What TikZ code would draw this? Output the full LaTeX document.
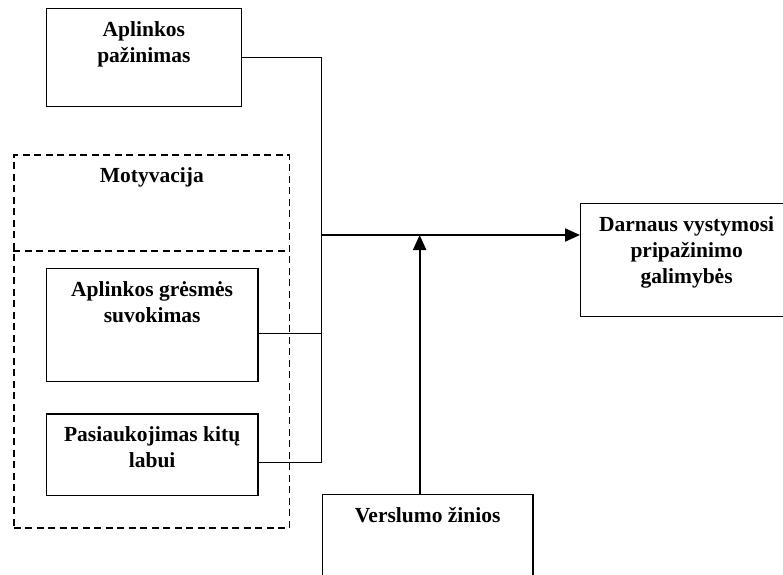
\documentclass[tikz,border=0pt]{standalone}
\usepackage{fontspec}
\setmainfont{Liberation Serif}
\usetikzlibrary{arrows.meta,positioning}
\tikzset{dezute/.style={draw,line width=1.3pt,inner sep=0pt,anchor=north west},
  antraste/.style={anchor=north,inner sep=0pt,yshift=-13.5pt,align=center,font=\fontsize{21.5}{26}\selectfont\bfseries},
  punkt/.style={draw,line width=1.3pt,dash pattern=on 7pt off 4.5pt},
  rysys/.style={line width=1.4pt},
  rodykle/.style={line width=2pt,-{Triangle[length=15pt,width=13pt]}}}

\begin{document}
\begin{tikzpicture}[x=1pt,y=-1pt]
    \path[use as bounding box,clip] (0,0) rectangle (783,574);

    % motyvacijos grupe
    \node[punkt,inner sep=0pt,anchor=north west,minimum width=275.7pt,minimum height=373pt,
      label={[antraste]north:Motyvacija}] (motyv) at (13.3,154.3) {};
    \draw[punkt] (13.3,251) -- (289,251);

    \node[dezute,minimum width=195pt,minimum height=98pt,
      label={[antraste]north:Aplinkos\\pažinimas}] (ap) at (45.7,7.7) {};
    \node[dezute,minimum width=211.6pt,minimum height=113.3pt,
      label={[antraste]north:Aplinkos grėsmės\\suvokimas}] (gr) at (45.7,267.7) {};
    \node[dezute,minimum width=211.6pt,minimum height=81.7pt,
      label={[antraste]north:Pasiaukojimas kitų\\labui}] (psk) at (45.7,413.3) {};
    \node[dezute,minimum width=212pt,minimum height=113.3pt,
      label={[antraste]north:Darnaus vystymosi\\pripažinimo\\galimybės}] (dv) at (580,202.7) {};
    \node[dezute,minimum width=210.6pt,minimum height=100pt,
      label={[antraste]north:Verslumo žinios}] (vz) at (321.7,494) {};

    \coordinate (mazgas) at (321.7,235);

    \draw[rysys] (ap.east) -| (mazgas);
    \draw[rysys] ([yshift=-8.4pt]gr.east) -| (mazgas);
    \draw[rysys] ([yshift=-7.7pt]psk.east) -| (mazgas);
    \draw[rodykle] (mazgas) -- (dv.west |- mazgas);
    \draw[rodykle] ([xshift=-8pt]vz.north) -- ([xshift=-8pt]vz.north |- mazgas);
\end{tikzpicture}
\end{document}
